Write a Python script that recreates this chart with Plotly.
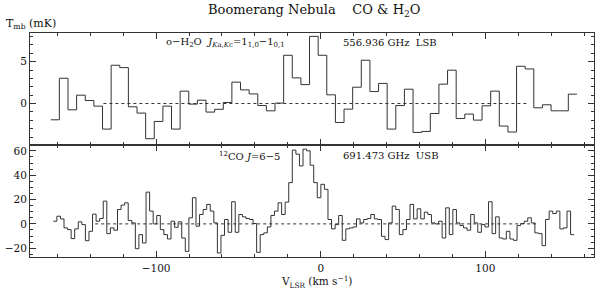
import numpy as np
import plotly.graph_objects as go

# ---------------- data ----------------
# o-H2O 1(1,0)-1(0,1) spectrum (mK), channel grid
h2o_v0 = -164.0      # left edge of first channel (km/s)
h2o_dv = 5.24        # channel width (km/s)
h2o_T = [-1.94, 3.02, -0.75, 1.00, 0.36, -0.31, -3.05, 4.57, 4.29, -0.39,
         -1.14, -4.20, -2.14, -0.31, -3.05, 1.48, -0.07, 0.40, -1.02, -0.69,
         0.12, 2.55, 1.63, 1.15, -0.24, -0.87, 0.05, 5.76, 3.06, 2.26,
         8.02, 5.76, 1.04, -2.26, -0.67, 1.95, 5.17, 1.43, 2.40, -3.05,
         -0.24, 1.71, -3.45, -3.33, -1.19, 2.31, 3.98, -1.79, -1.26, -1.98,
         -0.27, 1.48, -2.69, -3.40, 4.45, 4.13, -0.51, -0.15, -0.87, -0.87,
         1.12]

# 12CO J=6-5 spectrum (mK), channel grid
co_v0 = -162.45
co_dv = 2.167
co_T = [2.2, 6.3, 4.1, -3.3, -4.7, -12.1, -4.1, 1.7, -0.6, -13.8,
        -6.1, 8.0, 2.2, 4.4, 18.7, -8.0, -3.3, -5.2, 11.8, 15.4,
        17.3, 2.8, 0.8, -20.4, -8.8, -15.7, 26.1, 10.5, 0.0, 6.9,
        -4.7, -8.8, -12.4, 2.2, -2.8, 1.7, -11.6, -22.6, 5.0, 21.5,
        -1.9, 7.7, 11.8, 16.0, 10.5, 0.8, -23.9, -9.4, 3.6, -6.9,
        18.2, -6.9, 7.7, 5.8, 4.4, 3.6, 0.3, -23.4, -8.8, -7.4,
        -2.5, 6.9, 10.5, 17.3, 7.7, 17.9, 33.9, 60.6, 57.3, 47.6,
        61.4, 60.0, 48.2, 33.9, 21.5, 32.5, 28.4, 3.6, -4.1, -0.6,
        6.9, -13.5, -4.1, -3.3, -2.5, 4.1, 0.8, 3.6, 4.4, 7.7,
        4.1, 3.6, -10.2, -12.9, 0.8, 14.6, 11.8, -8.8, -4.7, 3.6,
        16.0, 4.1, 12.4, 4.1, 9.6, 7.7, 0.8, 0.0, 2.2, -11.6,
        13.2, -8.8, 11.8, 0.8, -1.4, -3.3, -5.2, 7.7, 0.8, -6.9,
        -0.6, -2.5, 18.2, -8.0, 5.8, -11.6, -12.4, -6.1, -12.4, -13.5,
        -1.4, 0.3, 2.2, 5.0, 0.8, -7.4, -8.0, -17.9, 3.6, 10.5,
        8.5, 10.5, -4.1, -3.3, 10.5, -8.8]

h2o_zero_span = [-132, 125]
co_zero_span = [-137, 131]

title_text = "Boomerang Nebula    CO & H<sub>2</sub>O"
ylabel_text = "T<sub>mb</sub> (mK)"
xlabel_text = "V<sub>LSR</sub> (km s<sup>−1</sup>)"
h2o_label = "o−H<sub>2</sub>O  <i>J</i><sub><i>K</i>a,<i>K</i>c</sub>=1<sub>1,0</sub>−1<sub>0,1</sub>"
h2o_freq = "556.936 GHz  LSB"
co_label = "<sup>12</sup>CO <i>J</i>=6−5"
co_freq = "691.473 GHz  USB"

# ---------------- figure ----------------
W, H = 600, 290
ML, MR, MT, MB = 30, 6, 33, 32.5
PW = W - ML - MR
PH = H - MT - MB

def px(xp):
    return (xp - ML) / PW

def py(yp):
    return (H - MB - yp) / PH

def steps(v0, dv, vals):
    n = len(vals)
    edges = v0 + dv * np.arange(n + 1)
    return edges, list(vals) + [vals[-1]]

FONT = "DejaVu Serif"
LC = "#333333"

fig = go.Figure()

xe, ye = steps(h2o_v0, h2o_dv, h2o_T)
fig.add_trace(go.Scatter(x=xe, y=ye, mode="lines", line=dict(color=LC, width=1, shape="hv"),
                         xaxis="x2", yaxis="y2", showlegend=False, hoverinfo="skip"))
fig.add_trace(go.Scatter(x=h2o_zero_span, y=[0, 0], mode="lines",
                         line=dict(color=LC, width=1, dash="dot"),
                         xaxis="x2", yaxis="y2", showlegend=False, hoverinfo="skip"))

xe, ye = steps(co_v0, co_dv, co_T)
fig.add_trace(go.Scatter(x=xe, y=ye, mode="lines", line=dict(color=LC, width=1, shape="hv"),
                         xaxis="x", yaxis="y", showlegend=False, hoverinfo="skip"))
fig.add_trace(go.Scatter(x=co_zero_span, y=[0, 0], mode="lines",
                         line=dict(color=LC, width=1, dash="dot"),
                         xaxis="x", yaxis="y", showlegend=False, hoverinfo="skip"))

axcommon = dict(showline=True, linecolor=LC, linewidth=1, mirror="ticks",
                ticks="inside", ticklen=6, tickwidth=1, tickcolor=LC,
                showgrid=False, zeroline=False, automargin=False,
                tickfont=dict(family=FONT, size=10.5, color="#111"))

xr = [-176.6, 166.0]
fig.update_layout(
    width=W, height=H, margin=dict(l=ML, r=MR, t=MT, b=MB),
    paper_bgcolor="white", plot_bgcolor="white",
    xaxis=dict(domain=[0, 1], anchor="y", range=xr, dtick=100, tick0=0,
               minor=dict(ticks="inside", ticklen=3, dtick=20, tickcolor=LC),
               ticklabelstandoff=1, **axcommon),
    yaxis=dict(domain=[0, 0.5], anchor="x", range=[-27.2, 64.8], dtick=20, tick0=0,
               minor=dict(ticks="inside", ticklen=3, dtick=5, tickcolor=LC),
               **axcommon),
    xaxis2=dict(domain=[0, 1], anchor="y2", range=xr, dtick=100, tick0=0,
                matches="x", showticklabels=False,
                minor=dict(ticks="inside", ticklen=3, dtick=20, tickcolor=LC),
                **axcommon),
    yaxis2=dict(domain=[0.5, 1], anchor="x2", range=[-4.95, 8.42], dtick=5, tick0=0,
                minor=dict(ticks="inside", ticklen=3, dtick=1, tickcolor=LC),
                **axcommon),
)

def ann(text, xp, yp, xanchor="left", size=11):
    fig.add_annotation(text=text, x=px(xp), y=py(yp), xref="paper", yref="paper",
                       xanchor=xanchor, yanchor="middle", showarrow=False,
                       font=dict(family=FONT, size=size, color="#111"))

ann(title_text, 314, 10, "center", 13)
ann(ylabel_text, 4, 24, "left", 11)
ann(h2o_label, 164, 43, "left", 10)
ann(h2o_freq, 341, 43, "left", 10)
ann(co_label, 217, 156, "left", 10)
ann(co_freq, 341, 156, "left", 10)
ann(xlabel_text, 316, 282.5, "center", 10.5)

fig.write_html("out.html", config={"displayModeBar": False},
               post_script="document.body.style.margin='0px';document.body.style.padding='0px';")
